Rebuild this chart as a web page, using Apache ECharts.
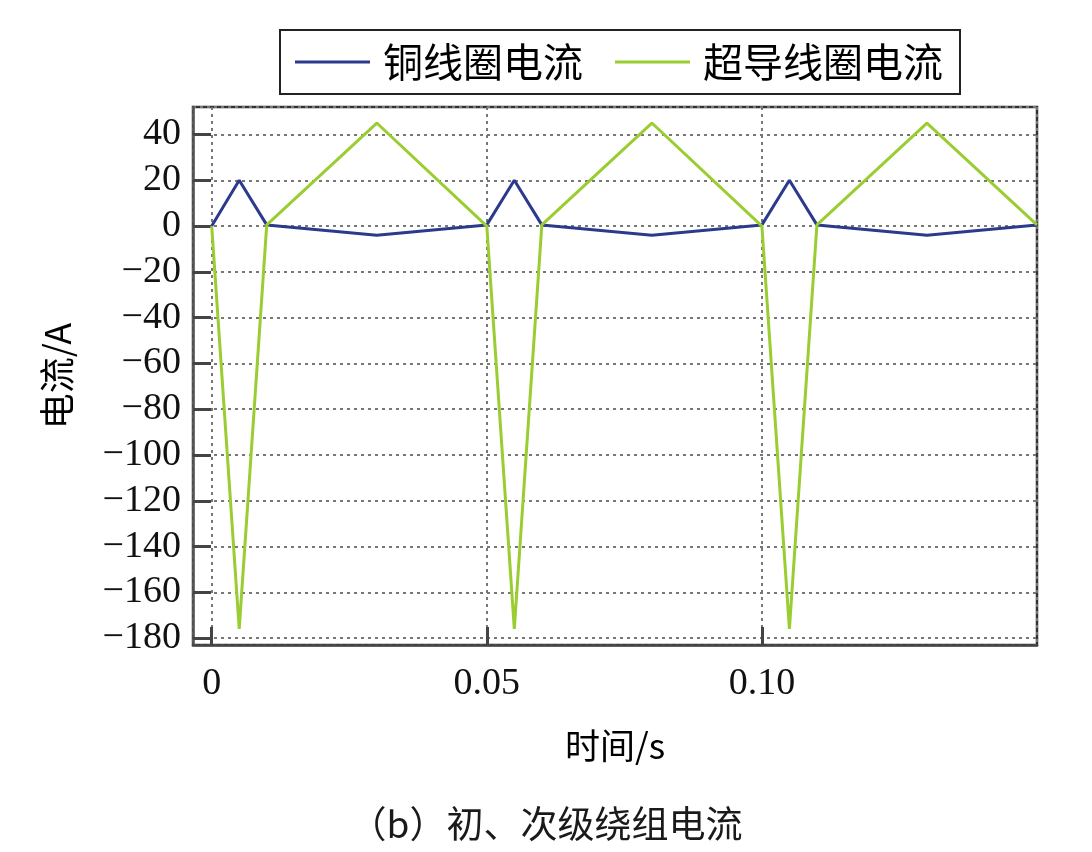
<!DOCTYPE html>
<html>
<head>
<meta charset="utf-8">
<script src="https://cdn.jsdelivr.net/npm/echarts@6/dist/echarts.min.js"></script>
<style>
html,body{margin:0;padding:0;background:#fff;}
#chart{width:1092px;height:852px;}
</style>
</head>
<body>
<div id="chart"></div>
<script>
// Time points (s)
const timePoints = [0, 0.005, 0.01, 0.03, 0.05, 0.055, 0.06, 0.08, 0.10, 0.105, 0.11, 0.13, 0.15];
// Copper coil current (A)
const copperCurrent = [0, 20, 0.5, -4, 0.5, 20, 0.5, -4, 0.5, 20, 0.5, -4, 0.5];
// Superconducting coil current (A)
const superCurrent = [0, -176, 0.5, 45, 0, -176, 0.5, 45, 0, -176, 0.5, 45, 0.5];
// Series names
const seriesNames = ['铜线圈电流', '超导线圈电流'];
const xTickValues = [0, 0.05, 0.10];
const yTickStep = 20;

const copperData = timePoints.map((t, i) => [t, copperCurrent[i]]);
const superData = timePoints.map((t, i) => [t, superCurrent[i]]);

const chart = echarts.init(document.getElementById('chart'));
const cjk = '"Noto Sans CJK SC", "Noto Sans", sans-serif';
const serif = '"Liberation Serif", "DejaVu Serif", serif';

chart.setOption({
  backgroundColor: '#ffffff',
  animation: false,
  title: {
    text: '（b）初、次级绕组电流',
    left: 'center',
    top: 800,
    textStyle: { fontFamily: cjk, fontSize: 37, fontWeight: 'normal', color: '#1a1a1a' }
  },
  legend: {
    left: 280,
    top: 30,
    data: seriesNames,
    orient: 'horizontal',
    icon: 'rect',
    borderColor: '#222',
    borderWidth: 2,
    padding: [12, 17, 12, 15],
    itemWidth: 75,
    itemHeight: 3,
    itemGap: 32,
    textStyle: { fontFamily: cjk, fontSize: 40, color: '#000', padding: [0, 0, 0, 8] }
  },
  grid: {
    left: 193, right: 55, top: 107, bottom: 207,
    show: true,
    borderColor: '#333',
    borderWidth: 2.5
  },
  xAxis: {
    type: 'value',
    min: -0.0034,
    max: 0.15,
    splitNumber: 3,
    name: '时间/s',
    nameLocation: 'middle',
    nameGap: 83,
    nameTextStyle: { fontFamily: cjk, fontSize: 35, color: '#000' },
    axisLine: { show: true, onZero: false, lineStyle: { color: '#444', width: 2.5 } },
    axisTick: { show: true, inside: true, length: 18, lineStyle: { color: '#444', width: 3 } },
    axisLabel: {
      showMinLabel: false,
      showMaxLabel: false,
      margin: 20,
      fontFamily: serif,
      fontSize: 38,
      color: '#111',
      formatter: function (v) {
        for (const t of xTickValues) {
          if (Math.abs(v - t) < 1e-9) return t === 0 ? '0' : t.toFixed(2);
        }
        return '';
      }
    },
    splitLine: { show: true, lineStyle: { color: '#777', width: 2, type: [3, 4] } }
  },
  yAxis: {
    type: 'value',
    min: -183,
    max: 52,
    splitNumber: 12,
    name: '电流/A',
    nameLocation: 'middle',
    nameRotate: 90,
    nameGap: 118,
    nameTextStyle: { fontFamily: cjk, fontSize: 36, color: '#000' },
    axisLine: { show: true, onZero: false, lineStyle: { color: '#555', width: 2.5 } },
    axisTick: { show: true, inside: true, length: 18, lineStyle: { color: '#444', width: 3 } },
    axisLabel: {
      showMinLabel: false,
      showMaxLabel: false,
      margin: 12,
      fontFamily: serif,
      fontSize: 38,
      color: '#111',
      formatter: function (v) {
        if (Math.abs(v / yTickStep - Math.round(v / yTickStep)) > 1e-6) return '';
        return String(Math.round(v)).replace('-', '\u2212');
      }
    },
    splitLine: { show: true, lineStyle: { color: '#777', width: 2, type: [3, 4] } }
  },
  series: [
    {
      name: seriesNames[0],
      type: 'line',
      data: copperData,
      symbol: 'none',
      color: '#2b3a8c',
      lineStyle: { color: '#2b3a8c', width: 3 },
      z: 3
    },
    {
      name: seriesNames[1],
      type: 'line',
      data: superData,
      symbol: 'none',
      color: '#9acd32',
      lineStyle: { color: '#9acd32', width: 3 },
      z: 4
    }
  ]
});
</script>
</body>
</html>
